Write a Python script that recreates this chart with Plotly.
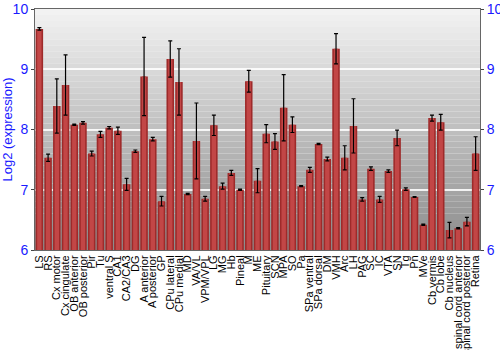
import plotly.graph_objects as go

categories = ["LS", "RS", "Cx motor", "Cx cingulate", "OB anterior", "OB posterior", "Pir", "Tu",
              "ventral S", "CA1", "CA2/CA3", "DG", "A anterior", "A posterior", "GP", "CPu lateral",
              "CPu medial", "MD", "VA/VL", "VPM/VPL", "LG", "MG", "Hb", "Pineal", "M", "ME",
              "Pituitary", "SCN", "MPA", "SO", "Pa", "SPa ventral", "SPa dorsal", "DM", "VMH", "Arc",
              "LH", "PAG", "SC", "IC", "VTA", "SN", "Tg", "Pn", "MVe", "Cb vermis", "Cb lobe",
              "Cb nucleus", "spinal cord anterior", "spinal cord posterior", "Retina"]
values = [9.67, 7.53, 8.39, 8.74, 8.08, 8.11, 7.60, 7.92,
          8.03, 7.98, 7.09, 7.64, 8.88, 7.84, 6.81, 9.17,
          8.79, 6.93, 7.81, 6.85, 8.07, 7.06, 7.28, 7.00, 8.80, 7.15,
          7.93, 7.80, 8.36, 8.08, 7.06, 7.33, 7.76, 7.51, 9.34, 7.53,
          8.06, 6.84, 7.35, 6.84, 7.31, 7.86, 7.01, 6.88, 6.42, 8.19, 8.12,
          6.33, 6.36, 6.47, 7.60]
errors = [0.02, 0.06, 0.45, 0.50, 0.01, 0.02, 0.04, 0.05,
          0.02, 0.06, 0.10, 0.02, 0.65, 0.03, 0.08, 0.30,
          0.55, 0.01, 0.63, 0.04, 0.17, 0.05, 0.04, 0.01, 0.18, 0.20,
          0.15, 0.13, 0.55, 0.13, 0.01, 0.04, 0.01, 0.03, 0.25, 0.20,
          0.45, 0.03, 0.03, 0.05, 0.02, 0.13, 0.02, 0.005, 0.01, 0.05, 0.13,
          0.13, 0.01, 0.07, 0.28]
y_ticks = [6, 7, 8, 9, 10]

fig = go.Figure()
fig.add_trace(go.Bar(x=categories, y=values, width=0.86,
                     marker=dict(color="#9e2a2a", line=dict(width=0)),
                     showlegend=False))
fig.add_trace(go.Bar(x=categories, y=values, width=0.5,
                     marker=dict(color="#c24646", line=dict(width=0)),
                     error_y=dict(type="data", array=errors, color="black", thickness=1.2, width=2),
                     showlegend=False))

# gradient background bands
n = 40
shapes = []
for i in range(n):
    t = i / (n - 1)
    g = int(round(0xf2 + (0x8c - 0xf2) * t))
    shapes.append(dict(type="rect", xref="paper", yref="paper",
                       x0=0, x1=1, y0=1 - (i + 1) / n, y1=1 - i / n,
                       fillcolor=f"rgb({g},{g},{g})", line=dict(width=0), layer="below"))

fig.update_layout(
    width=500, height=350,
    margin=dict(l=35, r=20, t=9, b=100),
    paper_bgcolor="white", plot_bgcolor="rgba(0,0,0,0)",
    barmode="overlay", bargap=0.1,
    shapes=shapes,
    font=dict(family="Liberation Sans, Arial, sans-serif"),
    xaxis=dict(tickangle=-90, tickfont=dict(size=11, color="black"),
               tickmode="array", tickvals=categories, ticktext=categories,
               automargin=False,
               showline=True, linecolor="#666", mirror=True, showgrid=False,
               ticks="", range=[-0.5, len(categories) - 0.5]),
    yaxis=dict(range=[6, 10], tickvals=y_ticks, ticks="outside", ticklen=3, tickcolor="#444",
               tickfont=dict(size=14, color="#1a1aff"), automargin=False,
               title=dict(text="Log2 (expression)", font=dict(size=13, color="#1a1aff"), standoff=4),
               showline=True, linecolor="#666", gridcolor="rgba(255,255,255,0.85)", gridwidth=2,
               zeroline=False),
    yaxis2=dict(range=[6, 10], tickvals=y_ticks, overlaying="y", side="right",
                ticks="outside", ticklen=3, tickcolor="#444", automargin=False,
                tickfont=dict(size=14, color="#1a1aff"), showgrid=False,
                showline=True, linecolor="#666", zeroline=False),
)
fig.add_trace(go.Scatter(x=[categories[0]], y=[6], yaxis="y2", mode="markers",
                         marker=dict(opacity=0), showlegend=False, hoverinfo="skip"))

fig.write_html("out.html")
